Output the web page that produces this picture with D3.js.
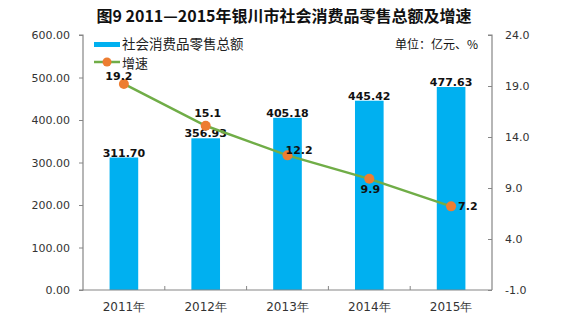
<!DOCTYPE html>
<html>
<head>
<meta charset="utf-8">
<script src="https://cdn.jsdelivr.net/npm/d3@7/dist/d3.min.js"></script>
<style>
  body { margin: 0; background: #fff; }
  svg { display: block; }
</style>
</head>
<body>
<div id="chart"></div>
<script>
const years = ['2011年', '2012年', '2013年', '2014年', '2015年'];
const retailSales = [311.70, 356.93, 405.18, 445.42, 477.63];
const growthRate = [19.2, 15.1, 12.2, 9.9, 7.2];
const leftTicks = [0, 100, 200, 300, 400, 500, 600];
const rightTicks = [-1, 4, 9, 14, 19, 24];

const W = 572, H = 333;
const margin = { left: 83, right: 80, top: 35, bottom: 43 };
const x0 = margin.left, x1 = W - margin.right;
const y0 = H - margin.bottom, y1 = margin.top;

const svg = d3.select('#chart').append('svg')
  .attr('width', W)
  .attr('height', H);

const x = d3.scaleBand().domain(years).range([x0, x1]).paddingInner(0.65).paddingOuter(0.325);
const xb = d3.scaleBand().domain(years).range([x0, x1]);
const yL = d3.scaleLinear().domain([0, 600]).range([y0, y1]);
const yR = d3.scaleLinear().domain([-1, 24]).range([y0, y1]);

const axisColor = '#868686';
const labelFont = 'DejaVu Sans, Verdana, sans-serif';
const cjkFont = '"Noto Sans CJK SC", sans-serif';

// title
svg.append('text')
  .attr('x', 284)
  .attr('y', 22)
  .attr('text-anchor', 'middle')
  .style('font-family', cjkFont)
  .style('font-weight', 700)
  .style('font-size', '16px')
  .style('fill', '#111')
  .text('图9 2011—2015年银川市社会消费品零售总额及增速');

// bars
svg.selectAll('rect.bar')
  .data(retailSales)
  .enter().append('rect')
  .attr('class', 'bar')
  .attr('x', (d, i) => x(years[i]))
  .attr('y', d => yL(d))
  .attr('width', x.bandwidth())
  .attr('height', d => y0 - yL(d))
  .style('fill', '#00b0f0');

// bar value labels
svg.selectAll('text.barlbl')
  .data(retailSales)
  .enter().append('text')
  .attr('x', (d, i) => x(years[i]) + x.bandwidth() / 2)
  .attr('y', d => yL(d) - 1)
  .attr('text-anchor', 'middle')
  .style('font-family', labelFont)
  .style('font-weight', 700)
  .style('font-size', '11px')
  .style('fill', '#111')
  .text(d => d.toFixed(2));

// axes
const gL = svg.append('g')
  .attr('transform', `translate(${x0},0)`)
  .call(d3.axisLeft(yL).tickValues(leftTicks).tickSize(4).tickPadding(9).tickFormat(d3.format('.2f')));

const gR = svg.append('g')
  .attr('transform', `translate(${x1},0)`)
  .call(d3.axisRight(yR).tickValues(rightTicks).tickSize(-4).tickPadding(13).tickFormat(d => d.toFixed(1)));

const gB = svg.append('g')
  .attr('transform', `translate(0,${y0})`)
  .call(d3.axisBottom(xb).tickSize(0).tickPadding(12));

[gL, gR, gB].forEach(g => {
  g.select('.domain').attr('stroke', axisColor).attr('stroke-width', 1.2);
  g.selectAll('.tick line').attr('stroke', axisColor);
  g.selectAll('.tick text')
    .style('font-family', labelFont)
    .style('font-size', '11px')
    .style('fill', '#333');
});
gL.select('.domain').attr('d', `M-4,${y1}H0V${y0}H-4`);
gR.select('.domain').attr('d', `M-4,${y1}H0V${y0}`);
gB.select('.domain').attr('d', `M${x0},0H${x1}`);
gB.selectAll('.tick text').style('font-size', '12px');

// category separators on the bottom axis
gB.selectAll('line.sep')
  .data(years.slice(1))
  .enter().append('line')
  .attr('x1', d => xb(d))
  .attr('x2', d => xb(d))
  .attr('y1', 0)
  .attr('y2', -4)
  .attr('stroke', axisColor);

// growth line
const cx = (d, i) => xb(years[i]) + xb.bandwidth() / 2;
svg.append('path')
  .datum(growthRate)
  .attr('d', d3.line().x(cx).y(d => yR(d)))
  .attr('fill', 'none')
  .attr('stroke', '#70ad47')
  .attr('stroke-width', 2.5);

svg.selectAll('circle.pt')
  .data(growthRate)
  .enter().append('circle')
  .attr('cx', cx)
  .attr('cy', d => yR(d))
  .attr('r', 5)
  .style('fill', '#ed7d31');

// growth labels: above, above, right, below, right
const lblPos = [[-5, -4, 'middle'], [2, -9, 'middle'], [-2, -1, 'start'], [1, 14, 'middle'], [7, 4, 'start']];
svg.selectAll('text.ptlbl')
  .data(growthRate)
  .enter().append('text')
  .attr('x', (d, i) => cx(d, i) + lblPos[i][0])
  .attr('y', (d, i) => yR(d) + lblPos[i][1])
  .attr('text-anchor', (d, i) => lblPos[i][2])
  .style('font-family', labelFont)
  .style('font-weight', 700)
  .style('font-size', '11px')
  .style('fill', '#111')
  .text(d => d.toFixed(1));

// legend
const lg = svg.append('g').attr('transform', 'translate(94,0)');
lg.append('rect')
  .attr('x', 0).attr('y', 42)
  .attr('width', 26).attr('height', 5)
  .style('fill', '#00b0f0');
lg.append('text')
  .attr('x', 28).attr('y', 49)
  .style('font-family', cjkFont)
  .style('font-size', '13.5px')
  .style('fill', '#222')
  .text('社会消费品零售总额');
lg.append('line')
  .attr('x1', 0).attr('x2', 26)
  .attr('y1', 62).attr('y2', 62)
  .attr('stroke', '#70ad47').attr('stroke-width', 2.5);
lg.append('circle')
  .attr('cx', 13).attr('cy', 62).attr('r', 4.5)
  .style('fill', '#ed7d31');
lg.append('text')
  .attr('x', 28).attr('y', 68)
  .style('font-family', cjkFont)
  .style('font-size', '13px')
  .style('fill', '#222')
  .text('增速');

svg.append('text')
  .attr('x', 478)
  .attr('y', 49)
  .attr('text-anchor', 'end')
  .style('font-family', cjkFont)
  .style('font-size', '12px')
  .style('fill', '#111')
  .text('单位：亿元、%');
</script>
</body>
</html>
